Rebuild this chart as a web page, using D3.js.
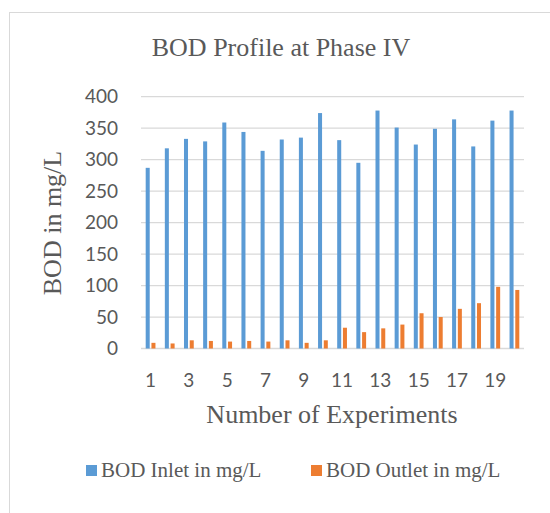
<!DOCTYPE html>
<html>
<head>
<meta charset="utf-8">
<script src="https://cdn.jsdelivr.net/npm/d3@7"></script>
<style>
  body { margin: 0; background: #fff; }
  text { fill: #595959; }
</style>
</head>
<body>
<svg id="chart" width="550" height="513"></svg>
<script>
// experiments 1..20
const experiments = d3.range(1, 21);
const inletBOD = [287, 318, 333, 329, 359, 344, 314, 332, 335, 374, 331, 295, 378, 351, 324, 349, 364, 321, 362, 378];
const outletBOD = [9, 8, 13, 12, 11, 12, 11, 13, 9, 13, 33, 26, 32, 38, 56, 50, 63, 72, 98, 93];
const seriesNames = ["BOD Inlet in mg/L", "BOD Outlet in mg/L"];
const yTicks = [0, 50, 100, 150, 200, 250, 300, 350, 400];
const xTickLabels = [1, 3, 5, 7, 9, 11, 13, 15, 17, 19];

const colors = ["#5B9BD5", "#ED7D31"];
const serif = "'Liberation Serif', 'Times New Roman', serif";
const sans = "Lato, 'Noto Sans', sans-serif";

var svg = d3.select("#chart");

// outer chart border
svg.append("rect").attr("x", 9.5).attr("y", 12.5).attr("width", 560).attr("height", 520)
  .attr("fill", "none").attr("stroke", "#D9D9D9").attr("stroke-width", 1);

var plotLeft = 141, plotRight = 524, plotTop = 96.7, plotBottom = 348.5;

var x = d3.scaleBand().domain(experiments).range([plotLeft, plotRight]).paddingInner(0.49).paddingOuter(0.245);
var xs = d3.scaleBand().domain([0, 1]).range([0, x.bandwidth()]).paddingInner(0.3);
var y = d3.scaleLinear().domain([0, 400]).range([plotBottom, plotTop]);

// gridlines
svg.append("g").selectAll("line").data(yTicks).enter().append("line")
  .attr("x1", plotLeft).attr("x2", plotRight)
  .attr("y1", d => y(d)).attr("y2", d => y(d))
  .attr("stroke", "#D9D9D9").attr("stroke-width", 1.3);

// y tick labels
svg.append("g").selectAll("text").data(yTicks).enter().append("text")
  .attr("x", 118).attr("y", d => y(d)).attr("dy", "0.35em")
  .attr("text-anchor", "end").style("font-family", sans).style("font-size", "19px")
  .text(d => d);

// bars
var series = [inletBOD, outletBOD];
series.forEach(function (vals, s) {
  svg.append("g").selectAll("rect").data(experiments).enter().append("rect")
    .attr("x", d => x(d) + xs(s))
    .attr("width", xs.bandwidth())
    .attr("y", (d, i) => y(vals[i]))
    .attr("height", (d, i) => y(0) - y(vals[i]))
    .attr("fill", colors[s]);
});

// x tick labels
svg.append("g").selectAll("text").data(xTickLabels).enter().append("text")
  .attr("x", d => x(d) + x.bandwidth() / 2).attr("y", 387)
  .attr("text-anchor", "middle").style("font-family", sans).style("font-size", "19px")
  .text(d => d);

// title
svg.append("text").attr("x", 281).attr("y", 56).attr("text-anchor", "middle")
  .style("font-family", serif).style("font-size", "26px").text("BOD Profile at Phase IV");

// axis titles
svg.append("text").attr("x", 332).attr("y", 423).attr("text-anchor", "middle")
  .style("font-family", serif).style("font-size", "26px").text("Number of Experiments");
svg.append("text").attr("transform", "translate(61,223) rotate(-90)").attr("text-anchor", "middle")
  .style("font-family", serif).style("font-size", "26px").text("BOD in mg/L");

// legend
var legendX = [86, 311];
var legend = svg.append("g").selectAll("g").data(seriesNames).enter().append("g")
  .attr("transform", (d, i) => "translate(" + legendX[i] + ",465)");
legend.append("rect").attr("width", 11).attr("height", 11).attr("fill", (d, i) => colors[i]);
legend.append("text").attr("x", 15).attr("y", 12).style("font-family", serif).style("font-size", "21px")
  .text(d => d);
</script>
</body>
</html>
